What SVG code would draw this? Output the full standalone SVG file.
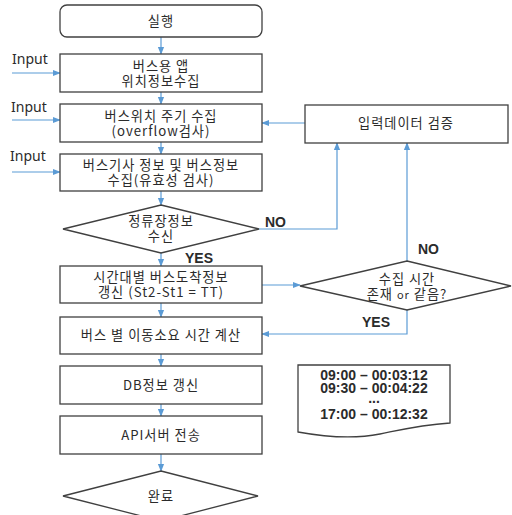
<svg xmlns="http://www.w3.org/2000/svg" width="512" height="515" viewBox="0 0 512 515">
<style>
.n{fill:#fff;stroke:#404040;stroke-width:1.3}
.c{fill:none;stroke:#5B9BD5;stroke-width:1.2}
.t{font-family:"Noto Sans CJK KR","Noto Sans",sans-serif;font-size:13.2px;letter-spacing:1px;fill:#2b2b2b;text-anchor:middle}
.l{font-family:"Noto Sans","Noto Sans CJK KR",sans-serif;font-size:14px;fill:#2b2b2b}
.b{font-family:"Liberation Sans","Noto Sans",sans-serif;font-size:14px;font-weight:bold;fill:#2b2b2b}
.d{font-family:"Liberation Sans","Noto Sans",sans-serif;font-size:14px;font-weight:bold;fill:#2b2b2b;text-anchor:middle}
</style>
<defs>
<marker id="a" viewBox="0 0 10 10" refX="9" refY="5" markerWidth="8" markerHeight="8" markerUnits="userSpaceOnUse" orient="auto"><path d="M0,1 L10,5 L0,9 z" fill="#5B9BD5"/></marker>
</defs>
<g id="connectors">
<path class="c" marker-end="url(#a)" d="M161,37 V54"/>
<path class="c" marker-end="url(#a)" d="M161,92 V104"/>
<path class="c" marker-end="url(#a)" d="M161,142 V154"/>
<path class="c" marker-end="url(#a)" d="M161,191 V205"/>
<path class="c" marker-end="url(#a)" d="M161,253 V266"/>
<path class="c" marker-end="url(#a)" d="M161,303 V317"/>
<path class="c" marker-end="url(#a)" d="M161,354 V366"/>
<path class="c" marker-end="url(#a)" d="M161,404 V416"/>
<path class="c" marker-end="url(#a)" d="M161,454 V471"/>
<path class="c" marker-end="url(#a)" d="M12,73 H60"/>
<path class="c" marker-end="url(#a)" d="M12,120 H60"/>
<path class="c" marker-end="url(#a)" d="M12,172 H60"/>
<path class="c" marker-end="url(#a)" d="M305,123 H262"/>
<path class="c" marker-end="url(#a)" d="M259,229 H337 V143"/>
<path class="c" marker-end="url(#a)" d="M262,285 H300"/>
<path class="c" marker-end="url(#a)" d="M407,261 V143"/>
<path class="c" marker-end="url(#a)" d="M407,310 V334 H262"/>
</g>
<g id="labels">
<text class="l" x="12" y="64">Input</text>
<text class="l" x="11" y="112">Input</text>
<text class="l" x="10" y="161">Input</text>
<text class="b" x="265" y="227">NO</text>
<text class="b" x="185" y="263">YES</text>
<text class="b" x="418" y="254">NO</text>
<text class="b" x="362" y="327">YES</text>
</g>
<g id="start"><rect class="n" x="60" y="5" width="202" height="32" rx="7"/><text class="t" x="161" y="26" font-size="15">실행</text></g>
<g id="n1"><rect class="n" x="60" y="54" width="202" height="38"/><text class="t" x="161" y="71">버스용 앱</text><text class="t" x="161" y="86">위치정보수집</text></g>
<g id="n2"><rect class="n" x="60" y="104" width="202" height="38"/><text class="t" x="161" y="121">버스위치 주기 수집</text><text class="t" x="161" y="136">(overflow검사)</text></g>
<g id="n3"><rect class="n" x="60" y="154" width="202" height="37"/><text class="t" x="161" y="170">버스기사 정보 및 버스정보</text><text class="t" x="161" y="185">수집(유효성 검사)</text></g>
<g id="validate"><rect class="n" x="305" y="105" width="203" height="38"/><text class="t" x="406" y="128">입력데이터 검증</text></g>
<g id="d1"><polygon class="n" points="161,205 259,229 161,253 63,229"/><text class="t" x="161" y="226">정류장정보</text><text class="t" x="161" y="241">수신</text></g>
<g id="n4"><rect class="n" x="60" y="266" width="202" height="37"/><text class="t" x="161" y="282">시간대별 버스도착정보</text><text class="t" x="161" y="297">갱신 (St2-St1 = TT)</text></g>
<g id="d2"><polygon class="n" points="407,261 511,286 407,310 300,286"/><text class="t" x="407" y="284">수집 시간</text><text class="t" x="407" y="299">존재 <tspan font-size="11">or</tspan> 같음?</text></g>
<g id="n5"><rect class="n" x="60" y="317" width="202" height="37"/><text class="t" x="161" y="340">버스 별 이동소요 시간 계산</text></g>
<g id="n6"><rect class="n" x="60" y="366" width="202" height="38"/><text class="t" x="161" y="390">DB정보 갱신</text></g>
<g id="n7"><rect class="n" x="60" y="416" width="202" height="38"/><text class="t" x="161" y="440">API서버 전송</text></g>
<g id="end"><polygon class="n" points="161,471 258,496 161,521 63,496"/><text class="t" x="161" y="501">완료</text></g>
<g id="doc"><path class="n" d="M298,365 H450 V423 C420,425 400,430 380,434 C350,440 320,436 298,432 Z"/>
<text class="d" x="374" y="380">09:00 – 00:03:12</text>
<text class="d" x="374" y="393">09:30 – 00:04:22</text>
<text class="d" x="374" y="403" font-size="8" font-weight="normal" fill="#666">...</text>
<text class="d" x="374" y="419">17:00 – 00:12:32</text>
</g>
</svg>
